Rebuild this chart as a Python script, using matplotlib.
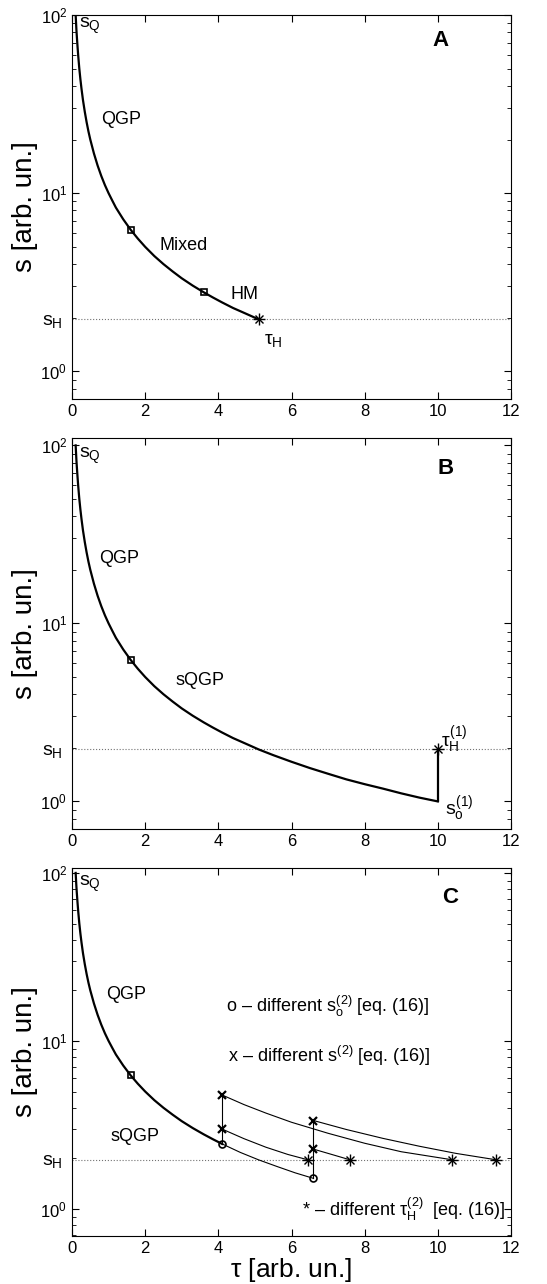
import numpy as np
import matplotlib
matplotlib.use('Agg')
import matplotlib.pyplot as plt

plt.rcParams['font.family'] = ['Liberation Sans', 'DejaVu Sans']
plt.rcParams['mathtext.fontset'] = 'custom'
plt.rcParams['mathtext.rm'] = 'Liberation Sans'
plt.rcParams['mathtext.it'] = 'Liberation Sans'
plt.rcParams['mathtext.bf'] = 'Liberation Sans:bold'

# main entropy curve
tau_main = [0.1, 0.11, 0.12, 0.13, 0.15, 0.17, 0.2, 0.23, 0.26, 0.3, 0.35, 0.4,
            0.45, 0.5, 0.6, 0.7, 0.8, 0.9, 1.0, 1.1, 1.2, 1.4, 1.6, 1.8, 2.0,
            2.25, 2.5, 2.75, 3.0, 3.3, 3.6, 3.85, 4.1, 4.4, 4.75, 5.1]
s_main = [100, 91, 83, 77, 67, 59, 50, 43.5, 38.5, 33.3, 28.6, 25,
          22.2, 20, 16.7, 14.3, 12.5, 11.1, 10, 9.1, 8.3, 7.14, 6.25, 5.56, 5.0,
          4.44, 4.0, 3.64, 3.33, 3.03, 2.78, 2.6, 2.44, 2.27, 2.11, 1.96]
# panel B continues down to tau = 10
tau_b_tail = [5.5, 6.0, 6.5, 7.0, 7.5, 8.0, 8.5, 9.0, 9.5, 10.0]
s_b_tail = [1.82, 1.67, 1.54, 1.43, 1.33, 1.25, 1.18, 1.11, 1.05, 1.0]

s_H = 1.96
tau_QGP_end = 1.6
tau_mixed_end = 3.6
tau_H = 5.1
tau_H1 = 10.0

# panel C branches
br_o_tau = [4.1, 4.6, 5.1, 5.6, 6.1, 6.6]
br_o_s = [2.44, 2.17, 1.96, 1.79, 1.64, 1.52]
br_x1_tau = [4.1, 4.7, 5.3, 5.9, 6.45]
br_x1_s = [2.99, 2.62, 2.33, 2.11, 1.96]
br_x2_tau = [4.1, 4.7, 5.3, 6.0, 7.0, 8.0, 9.0, 10.4]
br_x2_s = [4.77, 4.18, 3.72, 3.28, 2.82, 2.46, 2.19, 1.96]
br_x3_tau = [6.6, 7.1, 7.6]
br_x3_s = [2.27, 2.11, 1.96]
br_x4_tau = [6.6, 7.5, 8.5, 9.5, 10.5, 11.6]
br_x4_s = [3.36, 2.97, 2.63, 2.36, 2.14, 1.96]
circ_tau = [4.1, 6.6]
circ_s = [2.44, 1.52]
cross_tau = [4.1, 4.1, 6.6, 6.6]
cross_s = [2.99, 4.77, 2.27, 3.36]
star_tau = [6.45, 7.6, 10.4, 11.6]

W, H = 547, 1284
fig = plt.figure(figsize=(W / 100, H / 100), dpi=100)


def make_ax(top, bottom, ylim):
    ax = fig.add_axes([72 / W, (H - bottom) / H, (511 - 72) / W, (bottom - top) / H])
    ax.set_yscale('log')
    ax.set_xlim(0, 12)
    ax.set_ylim(*ylim)
    ax.set_xticks([0, 2, 4, 6, 8, 10, 12])
    ax.set_yticks([1, 10, 100])
    ax.tick_params(which='both', direction='in', top=True, right=True, labelsize=12)
    ax.tick_params(which='major', length=5)
    ax.tick_params(which='minor', length=3)
    ax.axhline(s_H, color='0.45', ls=':', lw=0.8)
    ax.set_ylabel('s [arb. un.]', fontsize=20, labelpad=2)
    ax.annotate('$s_H$', xy=(0, s_H), xycoords=('axes fraction', 'data'),
                xytext=(-7, -4), textcoords='offset points', ha='right',
                va='baseline', fontsize=14)
    ax.text(0.2, 99, '$s_Q$', fontsize=14, va='top')
    return ax


def asterisk(ax, x, y, ms=8):
    ax.plot(x, y, ls='none', marker='+', ms=ms, mew=1, color='k')
    ax.plot(x, y, ls='none', marker='x', ms=ms * 0.7, mew=1, color='k')


# ---- panel A
axA = make_ax(15, 399, (0.7, 100))
axA.plot(tau_main, s_main, 'k-', lw=1.6)
axA.plot([tau_QGP_end, tau_mixed_end], [6.25, 2.78], 'ks', ms=4, mfc='none', mew=1.2)
asterisk(axA, [tau_H], [s_H])
axA.text(0.79, 25.8, 'QGP', fontsize=13, va='center')
axA.text(2.38, 5.1, 'Mixed', fontsize=13, va='center')
axA.text(4.34, 2.7, 'HM', fontsize=13, va='center')
axA.text(5.25, 1.5, r'$\tau_H$', fontsize=14, va='center')
axA.text(10.06, 72, 'A', fontsize=16, fontweight='bold', ha='center', va='center')

# ---- panel B
axB = make_ax(438, 829, (0.7, 110))
axB.plot(tau_main + tau_b_tail, s_main + s_b_tail, 'k-', lw=1.6)
axB.plot([tau_H1, tau_H1], [s_b_tail[-1], s_H], 'k-', lw=1.6)
axB.plot([tau_QGP_end], [6.25], 'ks', ms=4, mfc='none', mew=1.2)
asterisk(axB, [tau_H1], [s_H])
axB.text(0.74, 23, 'QGP', fontsize=13, va='center')
axB.text(2.84, 4.8, 'sQGP', fontsize=13, va='center')
axB.text(10.1, 2.2, r'$\tau_H^{(1)}$', fontsize=14, va='center')
axB.text(10.2, 0.9, r'$s_o^{(1)}$', fontsize=14, va='center')
axB.text(10.2, 74, 'B', fontsize=16, fontweight='bold', ha='center', va='center')

# ---- panel C
axC = make_ax(868, 1236, (0.69, 107))
n = tau_main.index(4.1) + 1
axC.plot(tau_main[:n], s_main[:n], 'k-', lw=1.6)
axC.plot([tau_QGP_end], [6.25], 'ks', ms=4, mfc='none', mew=1.2)
for bt, bs in [(br_o_tau, br_o_s), (br_x1_tau, br_x1_s), (br_x2_tau, br_x2_s),
               (br_x3_tau, br_x3_s), (br_x4_tau, br_x4_s)]:
    axC.plot(bt, bs, 'k-', lw=0.8)
axC.plot([4.1, 4.1], [circ_s[0], max(cross_s[:2])], 'k-', lw=0.8)
axC.plot([6.6, 6.6], [circ_s[1], max(cross_s[2:])], 'k-', lw=0.8)
axC.plot(circ_tau, circ_s, 'ko', ms=5, mfc='none', mew=1.2)
axC.plot(cross_tau, cross_s, 'kx', ms=6, mew=1.6)
asterisk(axC, star_tau, [s_H] * len(star_tau))
axC.text(0.93, 18.8, 'QGP', fontsize=13, va='center')
axC.text(1.06, 2.7, 'sQGP', fontsize=13, va='center')
axC.text(4.2, 16, r'o – different $s_o^{(2)}$ [eq. (16)]', fontsize=13, va='center')
axC.text(4.27, 8.1, r'x – different $s^{(2)}$ [eq. (16)]', fontsize=13, va='center')
axC.text(6.29, 1.0, r'* – different $\tau_H^{(2)}$  [eq. (16)]', fontsize=13, va='center')
axC.text(10.34, 71, 'C', fontsize=16, fontweight='bold', ha='center', va='center')
axC.set_xlabel(r'$\tau$ [arb. un.]', fontsize=19, labelpad=0)

fig.savefig('out.png', dpi=100)
